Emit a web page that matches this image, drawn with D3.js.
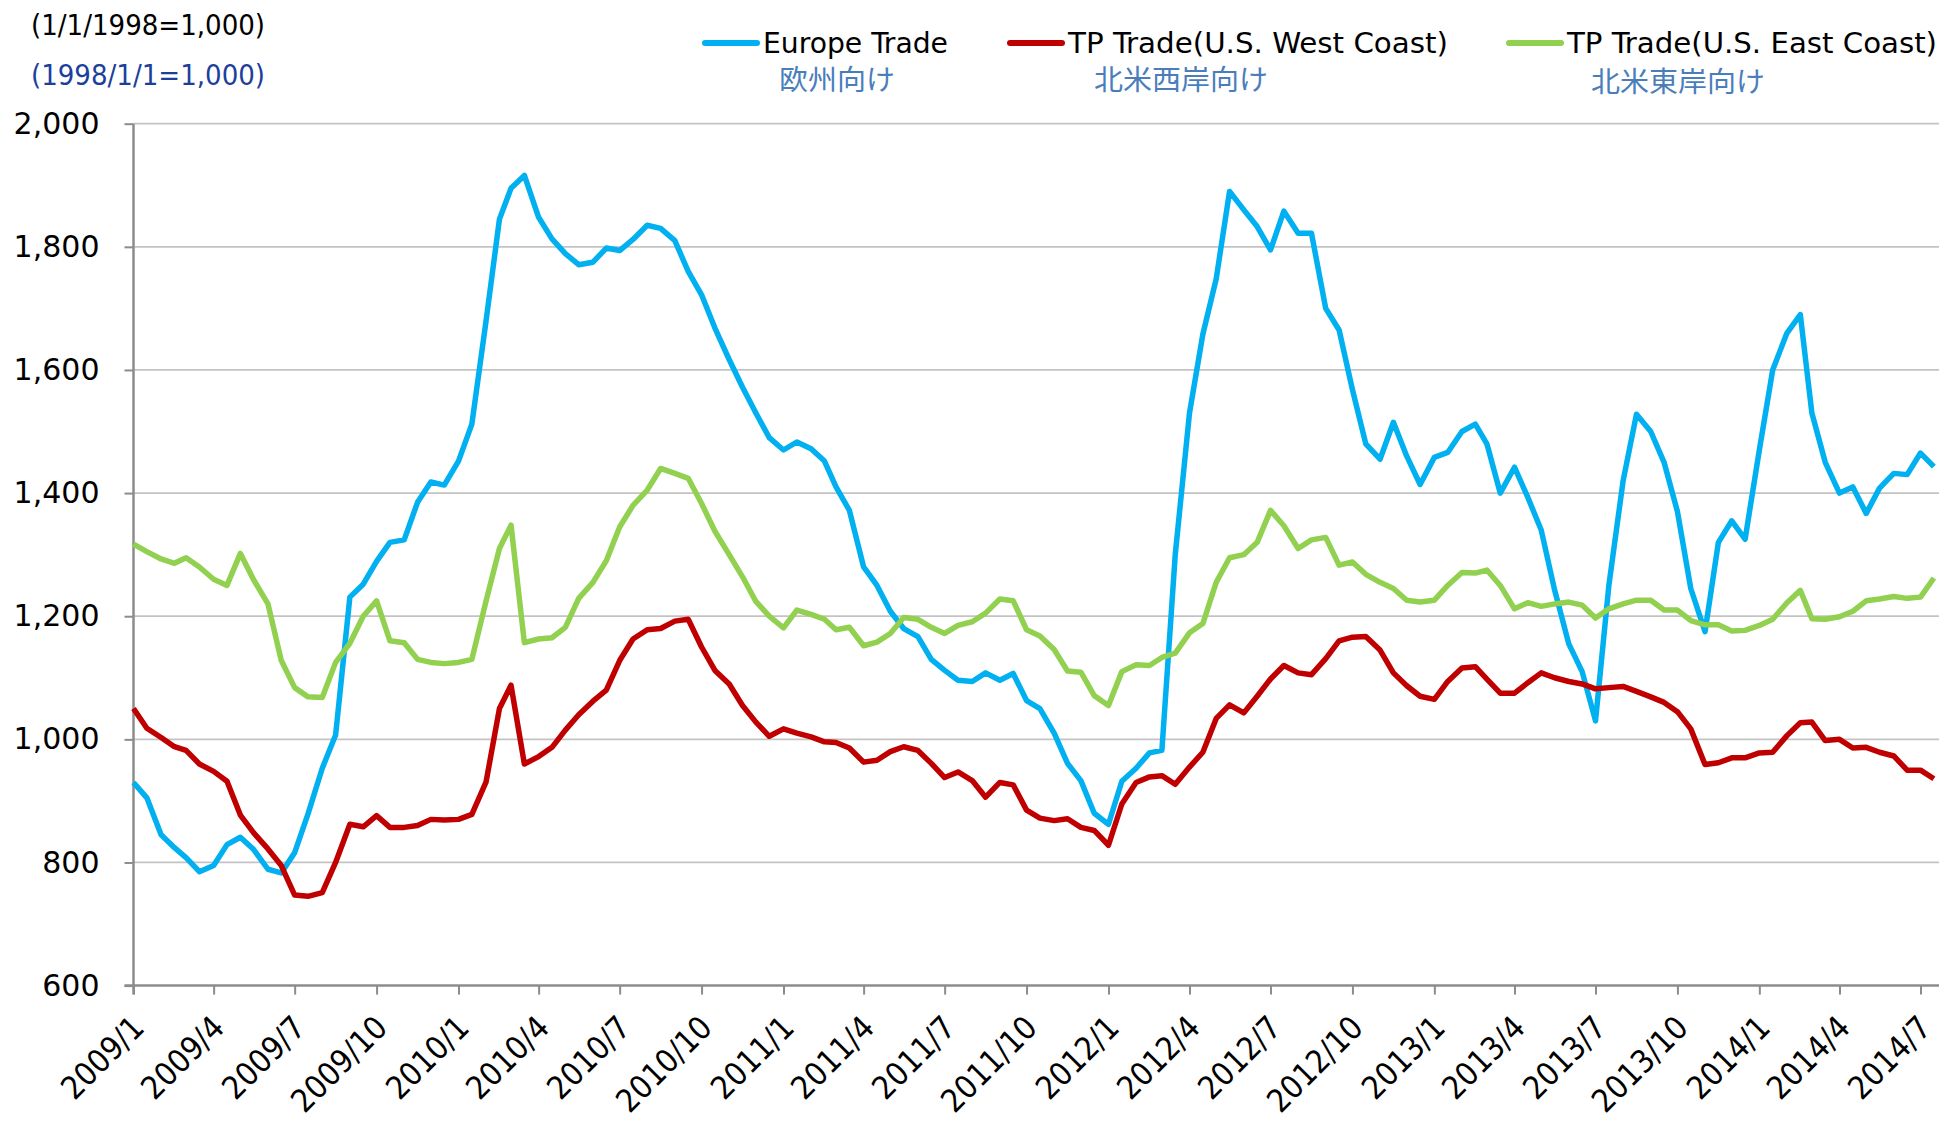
<!DOCTYPE html>
<meta charset="utf-8">
<script src="https://d3js.org/d3.v7.min.js"></script>
<style>
  body { margin: 0; background: #fff; }
  svg text { font-family: "DejaVu Sans Condensed", "DejaVu Sans", sans-serif; font-stretch: condensed; }
</style>
<body>
<div id="chart"></div>
<script>

// tick labels on the x axis (one per quarter)
var tickLabels = ["2009/1","2009/4","2009/7","2009/10","2010/1","2010/4","2010/7","2010/10",
  "2011/1","2011/4","2011/7","2011/10","2012/1","2012/4","2012/7","2012/10",
  "2013/1","2013/4","2013/7","2013/10","2014/1","2014/4","2014/7"];
var yTicks = [600, 800, 1000, 1200, 1400, 1600, 1800, 2000];

// series values, read twice a month (1st and 16th) from 2009/1/1 to 2014/7/16
var europe = [930,905,845,824,808,785,795,829,841,821,789,783,816,879,953,1007,1231,1252,1289,1320,
  1324,1385,1418,1413,1452,1512,1680,1845,1895,1916,1848,1813,1789,1771,1775,1798,1794,1812,1835,1830,
  1810,1760,1722,1668,1617,1572,1530,1490,1470,1483,1472,1452,1410,1372,1280,1250,1208,1180,1167,1130,
  1112,1096,1094,1108,1096,1107,1063,1050,1010,961,933,880,862,932,953,978,982,1300,1530,1658,
  1748,1890,1860,1833,1795,1858,1822,1822,1700,1665,1568,1480,1455,1515,1460,1414,1458,1466,1500,1512,
  1480,1400,1442,1393,1340,1243,1155,1110,1030,1250,1420,1528,1500,1450,1370,1245,1175,1320,1355,1325,
  1470,1600,1660,1690,1530,1450,1400,1410,1367,1408,1432,1430,1465,1443];
var westCoast = [1050,1018,1003,988,982,960,948,932,877,848,822,795,747,745,751,800,862,858,876,857,
  857,860,870,869,870,878,931,1050,1088,960,972,987,1015,1040,1062,1080,1128,1163,1178,1180,
  1192,1195,1150,1112,1090,1055,1028,1005,1017,1010,1004,996,995,986,963,966,980,988,982,961,
  938,947,933,906,930,926,885,872,868,871,857,852,828,895,930,939,941,927,955,979,
  1034,1056,1043,1070,1098,1120,1108,1105,1131,1160,1166,1167,1145,1108,1087,1070,1065,1094,1116,1118,
  1098,1075,1075,1092,1108,1100,1094,1090,1082,1084,1086,1078,1069,1060,1045,1017,959,962,970,970,
  978,979,1006,1027,1028,998,1000,986,987,979,973,950,950,936];
var eastCoast = [1317,1305,1293,1286,1295,1280,1260,1250,1302,1259,1220,1128,1084,1069,1068,1125,1156,1200,1225,1160,
  1157,1130,1125,1123,1125,1130,1225,1310,1348,1157,1163,1165,1182,1229,1255,1290,1345,1380,1405,1440,
  1432,1424,1383,1338,1300,1264,1224,1200,1181,1210,1203,1195,1178,1182,1152,1158,1172,1198,1195,1182,
  1172,1185,1191,1205,1228,1225,1178,1168,1146,1111,1109,1071,1055,1110,1121,1120,1133,1140,1173,1188,
  1255,1295,1300,1320,1372,1347,1310,1324,1328,1283,1288,1268,1255,1245,1226,1223,1226,1250,1271,1270,
  1275,1250,1212,1222,1216,1220,1223,1218,1197,1212,1220,1226,1226,1210,1210,1193,1186,1186,1176,1177,
  1185,1195,1222,1242,1196,1195,1199,1208,1225,1228,1232,1229,1231,1262];

var seriesNames = ["Europe Trade", "TP Trade(U.S. West Coast)", "TP Trade(U.S. East Coast)"];
var seriesJa = ["欧州向け", "北米西岸向け", "北米東岸向け"];
var seriesColors = ["#00b0f0", "#c00000", "#92d050"];
var seriesData = [europe, westCoast, eastCoast];

var width = 1939, height = 1122;
var plotLeft = 133.5, plotTop = 123.7, plotBottom = 985.6;

// dates of the points: 1st and 16th of each month
var dates = europe.map(function(d, i) {
  return new Date(2009, Math.floor(i / 2), i % 2 ? 16 : 1);
});
var tickDates = tickLabels.map(function(s) {
  var p = s.split("/");
  return new Date(+p[0], +p[1] - 1, 1);
});

var svg = d3.select("#chart")
  .append("svg")
    .attr("width", width)
    .attr("height", height);

var x = d3.scaleTime()
  .domain([new Date(2009, 0, 1), new Date(2014, 6, 1)])
  .range([plotLeft, 1920.5]);

var y = d3.scaleLinear()
  .domain([600, 2000])
  .range([plotBottom, plotTop]);

// gridlines
svg.append("g")
  .selectAll("line")
  .data(yTicks.slice(1))
  .enter()
  .append("line")
    .attr("x1", plotLeft)
    .attr("x2", width)
    .attr("y1", function(d) { return y(d); })
    .attr("y2", function(d) { return y(d); })
    .attr("stroke", "#c3c3c3")
    .attr("stroke-width", 1.8);

// y axis
var yAxis = svg.append("g")
  .attr("transform", "translate(" + plotLeft + ",0)")
  .call(d3.axisLeft(y)
    .tickValues(yTicks)
    .tickSize(9)
    .tickPadding(25)
    .tickFormat(d3.format(",")));
yAxis.select(".domain").remove();
yAxis.selectAll(".tick line").attr("stroke", "#8c8c8c").attr("stroke-width", 2);
yAxis.selectAll("text")
  .style("font-family", "'DejaVu Sans', sans-serif")
  .style("font-stretch", "normal")
  .attr("font-size", 30)
  .attr("fill", "#000");

// x axis
var xAxis = svg.append("g")
  .attr("transform", "translate(0," + plotBottom + ")")
  .call(d3.axisBottom(x)
    .tickValues(tickDates)
    .tickSize(9)
    .tickFormat(function(d, i) { return tickLabels[i]; }));
xAxis.select(".domain").remove();
xAxis.selectAll(".tick line").attr("stroke", "#8c8c8c").attr("stroke-width", 2);
xAxis.selectAll("text")
  .attr("x", 0)
  .attr("y", 0)
  .attr("dy", 0)
  .attr("font-size", 32)
  .attr("fill", "#000")
  .attr("text-anchor", "end")
  .attr("transform", "translate(12,44) rotate(-45)");

// axis lines
svg.append("line")
  .attr("x1", plotLeft).attr("x2", plotLeft)
  .attr("y1", plotTop).attr("y2", plotBottom + 9)
  .attr("stroke", "#8c8c8c").attr("stroke-width", 2.5);
svg.append("line")
  .attr("x1", plotLeft - 9).attr("x2", width)
  .attr("y1", plotBottom).attr("y2", plotBottom)
  .attr("stroke", "#8c8c8c").attr("stroke-width", 2.5);

// lines
var line = d3.line()
  .x(function(d, i) { return x(dates[i]); })
  .y(function(d) { return y(d); });

svg.selectAll("mylines")
  .data(seriesData)
  .enter()
  .append("path")
    .attr("fill", "none")
    .attr("stroke", function(d, i) { return seriesColors[i]; })
    .attr("stroke-width", 5.5)
    .attr("stroke-linejoin", "round")
    .attr("d", line);

// top-left notes
svg.append("text")
  .attr("x", 31).attr("y", 34.5)
  .attr("font-size", 29)
  .attr("fill", "#000")
  .text("(1/1/1998=1,000)");
svg.append("text")
  .attr("x", 31).attr("y", 85)
  .attr("font-size", 29)
  .attr("fill", "#1d3f9c")
  .text("(1998/1/1=1,000)");

// legend
var legendX = [705, 1010, 1509];
var legendLen = [185, 380, 370];
var jaX = [779, 1094, 1591];
var legend = svg.selectAll("legend")
  .data(seriesNames)
  .enter()
  .append("g");
legend.append("line")
  .attr("x1", function(d, i) { return legendX[i]; })
  .attr("x2", function(d, i) { return legendX[i] + 52; })
  .attr("y1", 43).attr("y2", 43)
  .attr("stroke", function(d, i) { return seriesColors[i]; })
  .attr("stroke-width", 6)
  .attr("stroke-linecap", "round");
legend.append("text")
  .attr("x", function(d, i) { return legendX[i] + 58; })
  .attr("y", 52.5)
  .attr("font-size", 29)
  .attr("fill", "#000")
  .attr("textLength", function(d, i) { return legendLen[i]; })
  .attr("lengthAdjust", "spacingAndGlyphs")
  .text(function(d) { return d; });
legend.append("text")
  .attr("x", function(d, i) { return jaX[i]; })
  .attr("y", function(d, i) { return i == 2 ? 92 : 90; })
  .attr("font-size", 28)
  .style("font-family", "'Noto Sans CJK JP', sans-serif")
  .attr("fill", "#4a7ebb")
  .attr("textLength", function(d, i) { return seriesJa[i].length * 29; })
  .attr("lengthAdjust", "spacingAndGlyphs")
  .text(function(d, i) { return seriesJa[i]; });

</script>
</body>
